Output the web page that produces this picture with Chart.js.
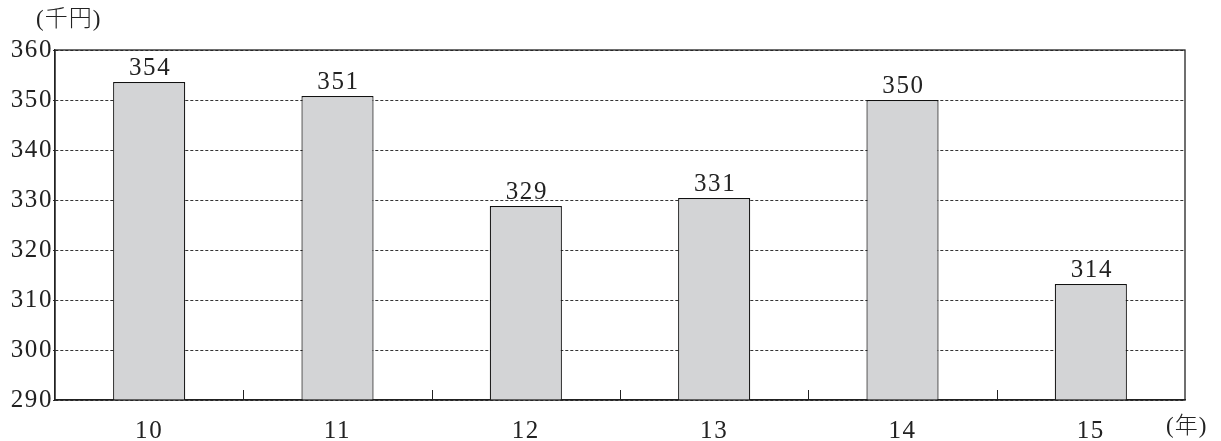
<!DOCTYPE html>
<html><head><meta charset="utf-8">
<script src="https://cdn.jsdelivr.net/npm/chart.js@4/dist/chart.umd.min.js"></script>
<style>html,body{margin:0;padding:0;background:#fff;}#wrap{width:1221px;height:441px;}</style>
</head><body><div id="wrap"><canvas id="c" width="1221" height="441"></canvas></div>
<script>
const categories = ['10', '11', '12', '13', '14', '15'];
const values = [353.6, 350.8, 328.8, 330.4, 350.0, 313.2];
const valueLabels = ['354', '351', '329', '331', '350', '314'];
const yMin = 290, yMax = 360, yStep = 10;
const yUnit = '(千円)';
const xUnit = '(年)';

const FONT = '"Liberation Serif", "Noto Sans CJK JP", serif';
const TXT = '#222';
const FS = 25;

const spacing = {
  id: 'spacing',
  beforeDraw(chart) { chart.ctx.letterSpacing = '1.6px'; }
};

const deco = {
  id: 'deco',
  afterDatasetsDraw(chart) {
    const ctx = chart.ctx, a = chart.chartArea, xs = chart.scales.x;
    ctx.save();
    ctx.strokeStyle = '#222'; ctx.lineWidth = 1;
    for (let i = 1; i < categories.length; i++) {
      const x = Math.round((xs.getPixelForValue(i - 1) + xs.getPixelForValue(i)) / 2) + 0.5;
      ctx.beginPath(); ctx.moveTo(x, a.bottom); ctx.lineTo(x, a.bottom - 10); ctx.stroke();
    }
    ctx.lineWidth = 1.3;
    ctx.strokeRect(a.left, a.top, a.right - a.left, a.bottom - a.top);
    ctx.fillStyle = TXT; ctx.font = FS + 'px ' + FONT;
    ctx.letterSpacing = '1.6px';
    ctx.textAlign = 'center'; ctx.textBaseline = 'alphabetic';
    const meta = chart.getDatasetMeta(0);
    meta.data.forEach((el, i) => ctx.fillText(valueLabels[i], el.x + 1, el.y - 7));
    ctx.letterSpacing = '1px';
    ctx.textAlign = 'left'; ctx.textBaseline = 'middle';
    ctx.font = '300 23px ' + FONT;
    ctx.fillText(yUnit, 36, 20);
    ctx.fillText(xUnit, 1166, 427);
    ctx.restore();
  }
};

new Chart(document.getElementById('c'), {
  type: 'bar',
  data: {
    labels: categories,
    datasets: [{
      data: values,
      backgroundColor: '#d3d4d6',
      borderColor: '#111',
      borderWidth: 1.2,
      borderSkipped: false,
      barPercentage: 0.383,
      categoryPercentage: 1.0
    }]
  },
  options: {
    responsive: false,
    animation: false,
    devicePixelRatio: 1,
    layout: { padding: { left: 0, right: 36, top: 50, bottom: 0 } },
    plugins: { legend: { display: false }, tooltip: { enabled: false } },
    scales: {
      x: {
        grid: { display: false },
        border: { display: true, color: '#222', width: 1.3 },
        ticks: { color: TXT, font: { family: FONT, size: FS }, padding: 8 },
        afterFit(s) { s.height = 41; }
      },
      y: {
        min: yMin, max: yMax,
        grid: { color: '#333', lineWidth: 1, tickLength: 2, drawTicks: true },
        border: { display: true, color: '#222', width: 1.3, dash: [3, 2] },
        ticks: { stepSize: yStep, color: TXT, font: { family: FONT, size: FS }, padding: 0 },
        afterFit(s) { s.width = 55; }
      }
    }
  },
  plugins: [spacing, deco]
});
</script></body></html>
